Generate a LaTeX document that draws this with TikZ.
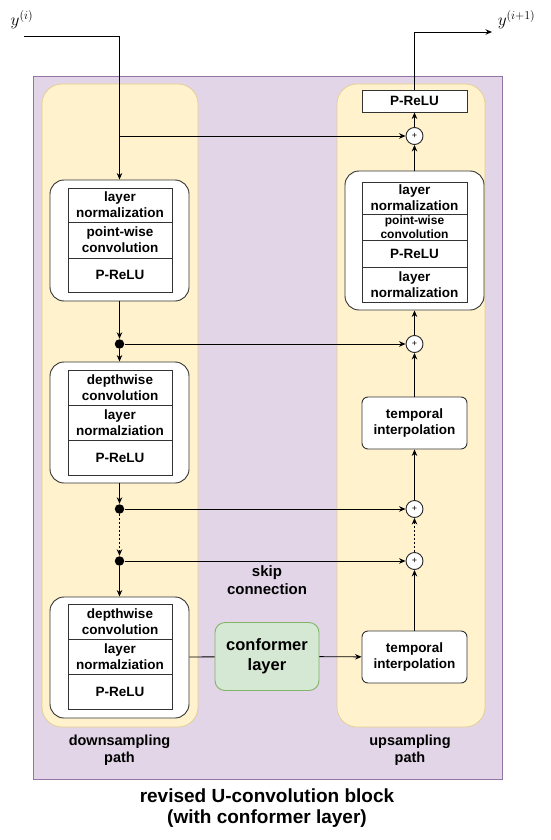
\documentclass[tikz,border=0pt]{standalone}
\usepackage{fontspec}
\setmainfont{Liberation Sans}
\usetikzlibrary{arrows.meta}
\definecolor{blockfill}{HTML}{E1D5E7}
\definecolor{blockline}{HTML}{9673A6}
\definecolor{pathfill}{HTML}{FFF2CC}
\definecolor{pathline}{HTML}{E3CF8E}
\definecolor{conffill}{HTML}{D5E8D4}
\definecolor{confline}{HTML}{82B366}
\begin{document}
\begin{tikzpicture}[
    x=1pt, y=-1pt,
    >={Stealth[length=6.5pt, width=5.5pt]},
    every path/.style={line width=0.9pt},
    panel/.style={draw=pathline, fill=pathfill, line width=0.7pt, rounded corners=20pt},
    stack/.style={draw=black!80, fill=white, rounded corners=14pt, minimum width=139pt, minimum height=121pt},
    layer/.style={draw=black!80, fill=white, minimum width=104pt, inner sep=0pt, align=center, font=\fontsize{13.5}{16}\selectfont\bfseries},
    smalllayer/.style={layer, font=\fontsize{12}{13.5}\selectfont\bfseries},
    interp/.style={layer, rounded corners=6pt, minimum width=105pt, minimum height=52pt},
    conf/.style={draw=confline, fill=conffill, rounded corners=10pt, minimum width=104pt, minimum height=68pt, align=center, font=\fontsize{16.5}{20}\selectfont\bfseries},
    plus/.style={circle, draw=black!85, fill=white, minimum size=17pt, inner sep=0pt, font=\fontsize{9}{9}\selectfont},
    dot/.style={circle, fill=black, minimum size=9.5pt, inner sep=0pt},
    caption/.style={align=center, font=\fontsize{14.5}{17}\selectfont\bfseries},
]
\useasboundingbox (0,0) rectangle (550,840);
% background of the block and the two paths
\draw[draw=blockline, fill=blockfill, line width=0.7pt] (33,76) rectangle (502,779);
\draw[panel] (42,84) rectangle (198,727);
\draw[panel] (337,84) rectangle (485,727);

% downsampling path
\node[stack] (d1) at (119.5,240.5) {};
\node[layer, minimum height=34pt] (d1a) at (120,205) {layer\\normalization};
\node[layer, minimum height=36pt] (d1b) at (120,240) {point-wise\\convolution};
\node[layer, minimum height=34pt] (d1c) at (120,275) {P-ReLU};

\node[stack] (d2) at (119.5,422.5) {};
\node[layer, minimum height=35pt] (d2a) at (120,387.5) {depthwise\\convolution};
\node[layer, minimum height=35pt] (d2b) at (120,422.5) {layer\\normalziation};
\node[layer, minimum height=35pt] (d2c) at (120,457.5) {P-ReLU};

\node[stack] (d3) at (119.5,657.5) {};
\node[layer, minimum height=35pt] (d3a) at (120,621.5) {depthwise\\convolution};
\node[layer, minimum height=35pt] (d3b) at (120,656.5) {layer\\normalziation};
\node[layer, minimum height=35pt] (d3c) at (120,691.5) {P-ReLU};

\node[dot] (dot1) at (119.5,344) {};
\node[dot] (dot2) at (119.5,509) {};
\node[dot] (dot3) at (119.5,561) {};

% bottleneck
\node[conf] (cf) at (267,656.5) {conformer\\layer};

% upsampling path
\node[layer, minimum width=105pt, minimum height=22pt] (out) at (414.5,101) {P-ReLU};
\node[stack, minimum height=139pt] (u1) at (414.5,240.5) {};
\node[layer, minimum width=105pt, minimum height=32pt] (u1a) at (414.5,198) {layer\\normalization};
\node[smalllayer, minimum width=105pt, minimum height=26pt] (u1b) at (414.5,227) {point-wise\\convolution};
\node[layer, minimum width=105pt, minimum height=27pt] (u1c) at (414.5,253.5) {P-ReLU};
\node[layer, minimum width=105pt, minimum height=35pt] (u1d) at (414.5,284.5) {layer\\normalization};
\node[interp] (t2) at (414.5,423) {temporal\\interpolation};
\node[interp] (t1) at (414.5,657) {temporal\\interpolation};

\node[plus] (p1) at (414.5,136) {+};
\node[plus] (p2) at (414.5,344) {+};
\node[plus] (p3) at (414.5,509) {+};
\node[plus] (p4) at (414.5,561) {+};

% input and output
\node[font=\LARGE] (yin) at (22,20) {$y^{(i)}$};
\node[font=\LARGE, anchor=west] (yout) at (494,20) {$y^{(i+1)}$};
\coordinate (inA) at (24,36);
\coordinate (br1) at (119.5,136);
\coordinate (outA) at (492,32);

% connectors
\draw[->] (inA) -| (d1);
\draw[->] (br1) -- (p1);
\draw[->] (d1) -- (dot1);
\draw[->] (dot1) -- (d2);
\draw[->] (dot1) -- (p2);
\draw[->] (d2) -- (dot2);
\draw[->] (dot2) -- (p3);
\draw[->, dash pattern=on 2pt off 2pt] (dot2) -- (dot3);
\draw[->] (dot3) -- (p4);
\draw[->] (dot3) -- (d3);
\draw (d3) -- (cf);
\draw[->] (cf) -- (t1);
\draw[->] (t1) -- (p4);
\draw[->, dash pattern=on 2pt off 2pt] (p4) -- (p3);
\draw[->] (p3) -- (t2);
\draw[->] (t2) -- (p2);
\draw[->] (p2) -- (u1);
\draw[->] (u1) -- (p1);
\draw[->] (p1) -- (out);
\draw[->] (out) |- (outA);

% labels
\node[caption, font=\fontsize{15}{18.5}\selectfont\bfseries] (skip) at (267,580) {skip\\connection};
\node[caption] (down) at (119.5,750) {downsampling\\path};
\node[caption] (up) at (410,750) {upsampling\\path};
\node[caption, font=\fontsize{19}{21.5}\selectfont\bfseries] (title) at (267,808) {revised U-convolution block\\(with conformer layer)};
\end{tikzpicture}
\end{document}
